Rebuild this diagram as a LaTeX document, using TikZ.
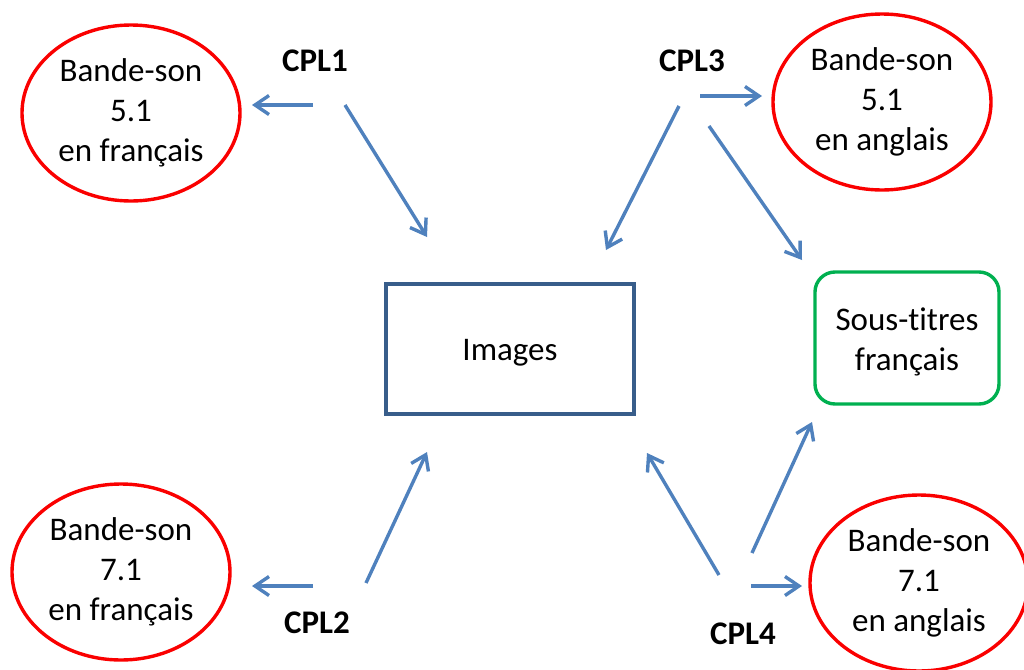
\documentclass[tikz,border=0pt]{standalone}
\usepackage{fontspec}
\setmainfont{Carlito}[Ligatures=CommonOff]
\usepackage{tikz}
\usetikzlibrary{arrows.meta,shapes.geometric}
\definecolor{soundred}{RGB}{250,0,0}
\definecolor{linkblue}{RGB}{79,129,189}
\definecolor{imageblue}{RGB}{56,93,138}
\definecolor{subgreen}{RGB}{0,176,80}

\begin{document}
\begin{tikzpicture}[
        x=0.5pt, y=-0.5pt,
        txt/.style={font=\fontsize{16.5}{20}\selectfont, align=center},
        sound/.style={txt, draw=soundred, line width=1.7pt, ellipse, inner sep=0pt, minimum width=109pt, minimum height=88pt},
        imgbox/.style={txt, draw=imageblue, line width=1.7pt, minimum width=124pt, minimum height=65pt},
        subbox/.style={txt, draw=subgreen, line width=1.7pt, rounded corners=10pt, minimum width=92pt, minimum height=66pt},
        cpl/.style={txt, font=\fontsize{16.5}{20}\selectfont\bfseries},
        arr/.style={draw=linkblue, line width=1.7pt, -{Straight Barb[length=7pt,width=9.5pt]}}
    ]
    \useasboundingbox (0,0) rectangle (1024,670);

    \node[sound] (fr51) at (131,113) {Bande-son\\5.1\\en français};
    \node[sound] (fr71) at (121,572) {Bande-son\\7.1\\en français};
    \node[sound] (en51) at (882,102) {Bande-son\\5.1\\en anglais};
    \node[sound] (en71) at (919,583) {Bande-son\\7.1\\en anglais};
    \node[imgbox] (images) at (510,349) {};
    \node[txt] (imglabel) at (images.center) [yshift=-2pt] {Images};
    \node[subbox] (subs) at (907,338) {};
    \node[txt] (sublabel) at (subs.center) [yshift=-2pt] {Sous-titres\\français};

    \node[cpl] (cpl1) at (315,61) {CPL1};
    \node[cpl] (cpl2) at (317,623) {CPL2};
    \node[cpl] (cpl3) at (692,61) {CPL3};
    \node[cpl] (cpl4) at (743,634) {CPL4};

    % arrow ends
    \coordinate (c1a) at (313,105);  \coordinate (c1b) at (252,105);
    \coordinate (c1c) at (345,105);  \coordinate (c1d) at (427,237);
    \coordinate (c2a) at (313,586);  \coordinate (c2b) at (252,586);
    \coordinate (c2c) at (366,583);  \coordinate (c2d) at (427,452);
    \coordinate (c3a) at (700,96);   \coordinate (c3b) at (762,96);
    \coordinate (c3c) at (679,106);  \coordinate (c3d) at (606,250);
    \coordinate (c3e) at (709,126);  \coordinate (c3f) at (802,260);
    \coordinate (c4a) at (751,586);  \coordinate (c4b) at (802,586);
    \coordinate (c4c) at (719,575);  \coordinate (c4d) at (647,453);
    \coordinate (c4e) at (752,553);  \coordinate (c4f) at (812,422);

    \draw[arr] (c1a) -- (c1b);
    \draw[arr] (c1c) -- (c1d);
    \draw[arr] (c2a) -- (c2b);
    \draw[arr] (c2c) -- (c2d);
    \draw[arr] (c3a) -- (c3b);
    \draw[arr] (c3c) -- (c3d);
    \draw[arr] (c3e) -- (c3f);
    \draw[arr] (c4a) -- (c4b);
    \draw[arr] (c4c) -- (c4d);
    \draw[arr] (c4e) -- (c4f);
\end{tikzpicture}
\end{document}
